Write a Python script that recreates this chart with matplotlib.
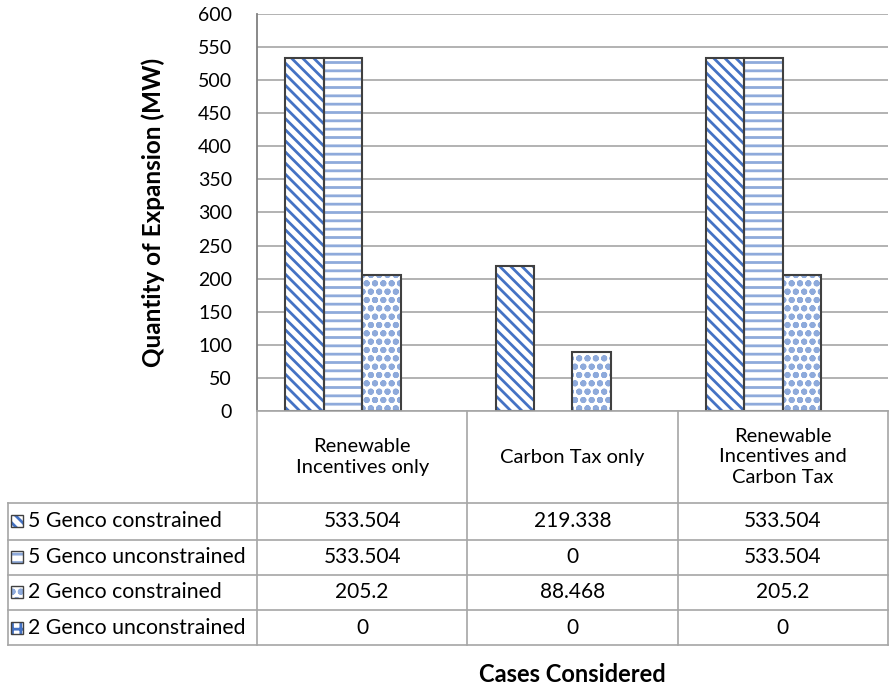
import matplotlib
matplotlib.use("Agg")
import matplotlib.pyplot as plt
import matplotlib.transforms as mtransforms
from matplotlib.patches import Rectangle
import numpy as np

plt.rcParams['font.family'] = ['Lato', 'DejaVu Sans']
plt.rcParams['hatch.linewidth'] = 2.0

categories = ["Renewable\nIncentives only", "Carbon Tax only", "Renewable\nIncentives and\nCarbon Tax"]
series_names = ["5 Genco constrained", "5 Genco unconstrained",
                "2 Genco constrained", "2 Genco unconstrained"]
gen5_con = [533.504, 219.338, 533.504]
gen5_uncon = [533.504, 0, 533.504]
gen2_con = [205.2, 88.468, 205.2]
gen2_uncon = [0, 0, 0]
series = [gen5_con, gen5_uncon, gen2_con, gen2_uncon]
cell_text = [["533.504", "219.338", "533.504"],
             ["533.504", "0", "533.504"],
             ["205.2", "88.468", "205.2"],
             ["0", "0", "0"]]
hatches = ['\\\\\\', '--', 'oo', '++']
hatch_cols = ['#4472C4', '#8eaadb', '#8eaadb', '#4472C4']

edge = '#404040'
grid = '#a6a6a6'

W, H = 889, 687
fig = plt.figure(figsize=(W / 100, H / 100), dpi=100)

def fx(x):
    return x / W

def fy(y):
    return 1 - y / H

# plot area in pixels
L, R, T, B = 257, 888, 14, 411
ax = fig.add_axes([fx(L), fy(B), fx(R) - fx(L), fy(T) - fy(B)])

x = np.arange(len(categories))
bw = 0.183
for i, vals in enumerate(series):
    pos = x + (i - 1.5) * bw
    ax.bar(pos, vals, bw, color='white', edgecolor=hatch_cols[i], hatch=hatches[i],
           linewidth=0, zorder=3)
    lws = [1.5 if v > 0 else 0 for v in vals]
    ax.bar(pos, vals, bw, color='none', edgecolor=edge, linewidth=lws, zorder=4)

ax.set_xlim(-0.5, len(categories) - 0.5)
ax.set_ylim(0, 600)
ax.set_yticks(range(0, 601, 50))
ax.tick_params(axis='y', labelsize=14, length=0, pad=18)
ax.set_xticks([])
ax.yaxis.grid(True, color=grid, linewidth=1.2, zorder=0)
for s in ['top', 'right', 'bottom']:
    ax.spines[s].set_visible(False)
ax.spines['left'].set_color('#808080')
ax.spines['left'].set_linewidth(1.3)
ax.set_ylabel("Quantity of Expansion (MW)", fontsize=17.5, fontweight='bold', labelpad=24)

# data table below the plot
tb = mtransforms.blended_transform_factory(ax.transData, fig.transFigure)
row_lines = [411, 503, 540, 575, 610, 645]
for yy in row_lines[1:]:
    fig.add_artist(plt.Line2D([fx(8), fx(888)], [fy(yy), fy(yy)], color=grid, lw=1.2))
fig.add_artist(plt.Line2D([fx(8), fx(8)], [fy(503), fy(645)], color=grid, lw=1.2))
fig.add_artist(plt.Line2D([fx(L), fx(L)], [fy(411), fy(645)], color=grid, lw=1.2))
for k in range(len(categories)):
    xb = k + 0.5
    ax.add_artist(plt.Line2D([xb, xb], [fy(411), fy(645)], color=grid, lw=1.2,
                             transform=tb, clip_on=False))
fig.add_artist(plt.Line2D([fx(L), fx(888)], [fy(411), fy(411)], color=grid, lw=1.2))

for k, c in enumerate(categories):
    ax.text(k, fy(457), c, transform=tb, ha='center', va='center',
            fontsize=14.5, linespacing=1.25, clip_on=False)

row_centers = [521, 557, 592, 628]
for r, name in enumerate(series_names):
    yc = row_centers[r]
    fig.text(fx(28), fy(yc), name, ha='left', va='center', fontsize=15.3)
    key = Rectangle((fx(11), fy(yc + 6)), fx(12), 12 / H, transform=fig.transFigure,
                    facecolor='white', edgecolor=hatch_cols[r], hatch=hatches[r], lw=0)
    fig.add_artist(key)
    fig.add_artist(Rectangle((fx(11), fy(yc + 6)), fx(12), 12 / H,
                             transform=fig.transFigure, facecolor='none',
                             edgecolor=edge, lw=1))
    for k in range(len(categories)):
        ax.text(k, fy(yc), cell_text[r][k], transform=tb, ha='center', va='center',
                fontsize=15, clip_on=False)

fig.text(fx(572), fy(675), "Cases Considered", ha='center', va='center',
         fontsize=17, fontweight='bold')

fig.savefig("out.png", dpi=100)
